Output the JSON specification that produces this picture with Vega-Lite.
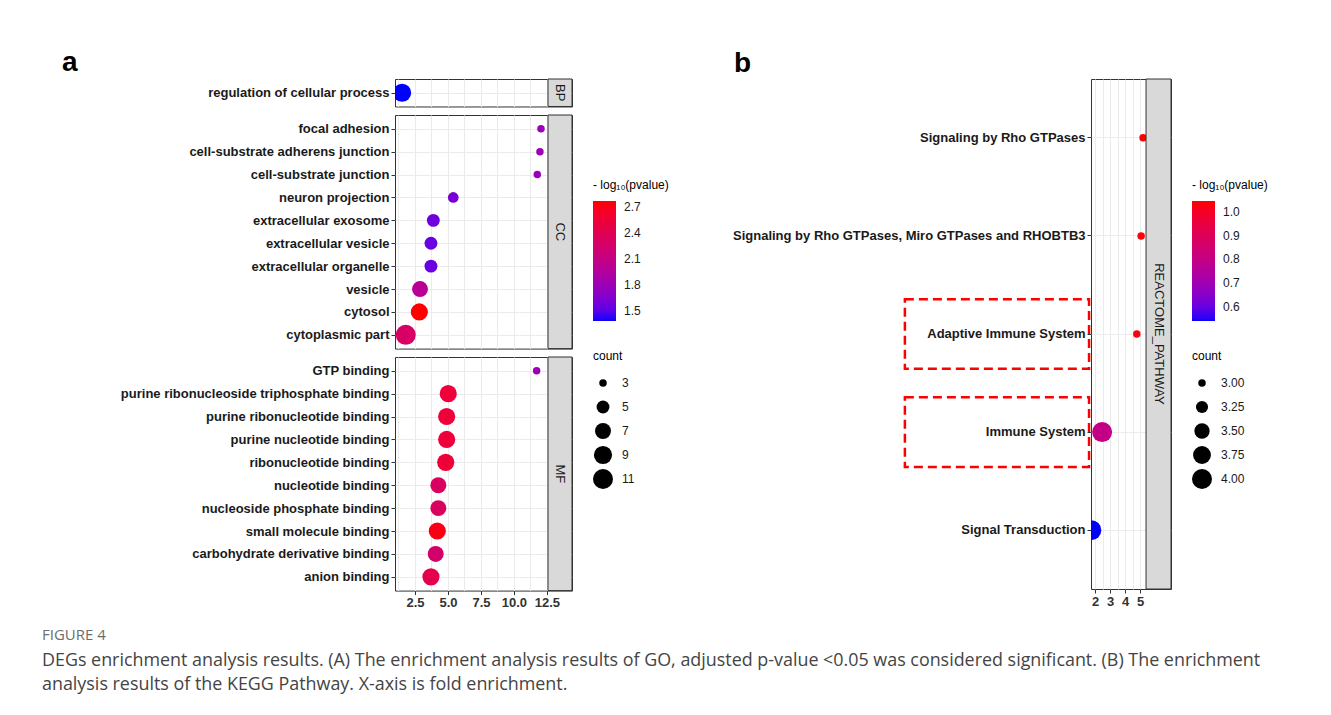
{
  "$schema": "https://vega.github.io/schema/vega-lite/v6.json",
  "background": "white",
  "padding": {"left": 42, "top": 49, "right": 5, "bottom": 5},
  "datasets": {
    "go": [
      {"ont": "BP", "term": "regulation of cellular process", "fe": 1.52, "p": 1.39, "count": 9},
      {"ont": "CC", "term": "focal adhesion", "fe": 12.05, "p": 1.8, "count": 3},
      {"ont": "CC", "term": "cell-substrate adherens junction", "fe": 11.97, "p": 1.8, "count": 3},
      {"ont": "CC", "term": "cell-substrate junction", "fe": 11.77, "p": 1.79, "count": 3},
      {"ont": "CC", "term": "neuron projection", "fe": 5.4, "p": 1.62, "count": 4},
      {"ont": "CC", "term": "extracellular exosome", "fe": 3.89, "p": 1.58, "count": 5},
      {"ont": "CC", "term": "extracellular vesicle", "fe": 3.71, "p": 1.56, "count": 5},
      {"ont": "CC", "term": "extracellular organelle", "fe": 3.71, "p": 1.56, "count": 5},
      {"ont": "CC", "term": "vesicle", "fe": 2.88, "p": 2.02, "count": 7},
      {"ont": "CC", "term": "cytosol", "fe": 2.83, "p": 2.77, "count": 8},
      {"ont": "CC", "term": "cytoplasmic part", "fe": 1.8, "p": 2.3, "count": 11},
      {"ont": "MF", "term": "GTP binding", "fe": 11.72, "p": 1.8, "count": 3},
      {"ont": "MF", "term": "purine ribonucleoside triphosphate binding", "fe": 5.02, "p": 2.55, "count": 8},
      {"ont": "MF", "term": "purine ribonucleotide binding", "fe": 4.9, "p": 2.55, "count": 8},
      {"ont": "MF", "term": "purine nucleotide binding", "fe": 4.9, "p": 2.55, "count": 8},
      {"ont": "MF", "term": "ribonucleotide binding", "fe": 4.83, "p": 2.56, "count": 8},
      {"ont": "MF", "term": "nucleotide binding", "fe": 4.27, "p": 2.33, "count": 7},
      {"ont": "MF", "term": "nucleoside phosphate binding", "fe": 4.27, "p": 2.33, "count": 7},
      {"ont": "MF", "term": "small molecule binding", "fe": 4.19, "p": 2.72, "count": 8},
      {"ont": "MF", "term": "carbohydrate derivative binding", "fe": 4.07, "p": 2.25, "count": 7},
      {"ont": "MF", "term": "anion binding", "fe": 3.71, "p": 2.45, "count": 8}
    ],
    "kegg": [
      {"db": "REACTOME_PATHWAY", "term": "Signaling by Rho GTPases", "fe": 5.2, "p": 1.046, "count": 3, "boxed": false},
      {"db": "REACTOME_PATHWAY", "term": "Signaling by Rho GTPases, Miro GTPases and RHOBTB3", "fe": 5.07, "p": 1.04, "count": 3, "boxed": false},
      {"db": "REACTOME_PATHWAY", "term": "Adaptive Immune System", "fe": 4.78, "p": 1.03, "count": 3, "boxed": true},
      {"db": "REACTOME_PATHWAY", "term": "Immune System", "fe": 2.47, "p": 0.8, "count": 4, "boxed": true},
      {"db": "REACTOME_PATHWAY", "term": "Signal Transduction", "fe": 1.75, "p": 0.54, "count": 4, "boxed": false}
    ]
  },
  "title": {
    "text": "FIGURE 4",
    "subtitle": [
      "DEGs enrichment analysis results. (A) The enrichment analysis results of GO, adjusted p-value <0.05 was considered significant. (B) The enrichment",
      "analysis results of the KEGG Pathway. X-axis is fold enrichment."
    ],
    "orient": "bottom",
    "anchor": "start",
    "frame": "group",
    "offset": 18,
    "dx": -353,
    "font": "Open Sans",
    "fontSize": 15,
    "fontWeight": "normal",
    "color": "#6d6d6d",
    "subtitleFont": "Open Sans",
    "subtitleFontSize": 17.9,
    "subtitleColor": "#444444",
    "subtitleLineHeight": 24,
    "subtitlePadding": 9
  },
  "spacing": 62,
  "resolve": {
    "scale": {"color": "independent", "size": "independent"},
    "legend": {"color": "independent", "size": "independent"}
  },
  "hconcat": [
    {
      "title": {"text": "a", "anchor": "start", "frame": "group", "dx": -333, "fontSize": 28, "fontWeight": "bold", "offset": 1, "color": "#000000"},
      "data": {"name": "go"},
      "spacing": 8,
      "bounds": "flush",
      "resolve": {"scale": {"color": "shared", "size": "shared"}},
      "vconcat": [
        {
          "width": 177,
          "height": {"step": 22.9},
          "transform": [{"filter": "datum.ont == 'BP'"}],
          "layer": [
            {
              "mark": {"type": "circle", "opacity": 1, "clip": true},
              "encoding": {
                "y": {"field": "term", "type": "nominal", "sort": null, "scale": {"padding": 0.6}, "axis": {"grid": true}},
                "x": {"field": "fe", "type": "quantitative", "scale": {"domain": [0.985, 14.4], "nice": false, "zero": false},
                      "axis": {"values": [1.25, 2.5, 3.75, 5, 6.25, 7.5, 8.75, 10, 11.25, 12.5], "labels": false, "ticks": false}},
                "color": {"field": "p", "type": "quantitative", "scale": {"range": ["blue", "red"], "interpolate": "lab"},
                          "legend": {"title": "- log₁₀(pvalue)", "orient": "none", "legendX": 198, "legendY": 101, "values": [1.5, 1.8, 2.1, 2.4, 2.7], "format": ".1f", "labelOffset": 8}},
                "size": {"field": "count", "type": "quantitative", "scale": {"type": "sqrt", "zero": false, "range": [56, 400]},
                         "legend": {"title": "count", "orient": "none", "legendX": 198, "legendY": 272, "values": [3, 5, 7, 9, 11], "symbolFillColor": "black", "symbolStrokeColor": "black", "symbolStrokeWidth": 0, "symbolOpacity": 1, "symbolType": "circle", "rowPadding": 4, "clipHeight": 20, "titlePadding": 10, "labelOffset": 9}}
              }
            },
            {
              "transform": [{"aggregate": [{"op": "count", "as": "n"}], "groupby": ["ont"]}],
              "layer": [
                {"mark": {"type": "rect", "fill": "#d9d9d9", "stroke": "#333333", "strokeWidth": 1},
                 "encoding": {"x": {"datum": 12.58, "type": "quantitative", "axis": {"values": [1.25, 2.5, 3.75, 5, 6.25, 7.5, 8.75, 10, 11.25, 12.5], "labels": false, "ticks": false}}, "x2": {"datum": 14.4}}},
                {"mark": {"type": "text", "angle": 90, "fontSize": 13, "color": "#1a1a1a", "font": "Liberation Sans"},
                 "encoding": {"x": {"datum": 13.49, "type": "quantitative", "axis": {"values": [1.25, 2.5, 3.75, 5, 6.25, 7.5, 8.75, 10, 11.25, 12.5], "labels": false, "ticks": false}}, "text": {"field": "ont"}}}
              ]
            }
          ]
        },
        {
          "width": 177,
          "height": {"step": 22.9},
          "transform": [{"filter": "datum.ont == 'CC'"}],
          "layer": [
            {
              "mark": {"type": "circle", "opacity": 1, "clip": true},
              "encoding": {
                "y": {"field": "term", "type": "nominal", "sort": null, "scale": {"padding": 0.6}, "axis": {"grid": true}},
                "x": {"field": "fe", "type": "quantitative", "scale": {"domain": [0.985, 14.4], "nice": false, "zero": false},
                      "axis": {"values": [1.25, 2.5, 3.75, 5, 6.25, 7.5, 8.75, 10, 11.25, 12.5], "labels": false, "ticks": false}},
                "color": {"field": "p", "type": "quantitative", "scale": {"range": ["blue", "red"], "interpolate": "lab"},
                          "legend": {"title": "- log₁₀(pvalue)", "orient": "none", "legendX": 198, "legendY": 101, "values": [1.5, 1.8, 2.1, 2.4, 2.7], "format": ".1f", "labelOffset": 8}},
                "size": {"field": "count", "type": "quantitative", "scale": {"type": "sqrt", "zero": false, "range": [56, 400]},
                         "legend": {"title": "count", "orient": "none", "legendX": 198, "legendY": 272, "values": [3, 5, 7, 9, 11], "symbolFillColor": "black", "symbolStrokeColor": "black", "symbolStrokeWidth": 0, "symbolOpacity": 1, "symbolType": "circle", "rowPadding": 4, "clipHeight": 20, "titlePadding": 10, "labelOffset": 9}}
              }
            },
            {
              "transform": [{"aggregate": [{"op": "count", "as": "n"}], "groupby": ["ont"]}],
              "layer": [
                {"mark": {"type": "rect", "fill": "#d9d9d9", "stroke": "#333333", "strokeWidth": 1},
                 "encoding": {"x": {"datum": 12.58, "type": "quantitative", "axis": {"values": [1.25, 2.5, 3.75, 5, 6.25, 7.5, 8.75, 10, 11.25, 12.5], "labels": false, "ticks": false}}, "x2": {"datum": 14.4}}},
                {"mark": {"type": "text", "angle": 90, "fontSize": 13, "color": "#1a1a1a", "font": "Liberation Sans"},
                 "encoding": {"x": {"datum": 13.49, "type": "quantitative", "axis": {"values": [1.25, 2.5, 3.75, 5, 6.25, 7.5, 8.75, 10, 11.25, 12.5], "labels": false, "ticks": false}}, "text": {"field": "ont"}}}
              ]
            }
          ]
        },
        {
          "width": 177,
          "height": {"step": 22.9},
          "transform": [{"filter": "datum.ont == 'MF'"}],
          "layer": [
            {
              "mark": {"type": "circle", "opacity": 1, "clip": true},
              "encoding": {
                "y": {"field": "term", "type": "nominal", "sort": null, "scale": {"padding": 0.6}, "axis": {"grid": true}},
                "x": {"field": "fe", "type": "quantitative", "scale": {"domain": [0.985, 14.4], "nice": false, "zero": false},
                      "axis": {"values": [1.25, 2.5, 3.75, 5, 6.25, 7.5, 8.75, 10, 11.25, 12.5], "labelExpr": "datum.value % 2.5 === 0 ? format(datum.value, '.1f') : ''", "tickOpacity": {"condition": {"test": "datum.value % 2.5 !== 0", "value": 0}, "value": 1}}},
                "color": {"field": "p", "type": "quantitative", "scale": {"range": ["blue", "red"], "interpolate": "lab"},
                          "legend": {"title": "- log₁₀(pvalue)", "orient": "none", "legendX": 198, "legendY": 101, "values": [1.5, 1.8, 2.1, 2.4, 2.7], "format": ".1f", "labelOffset": 8}},
                "size": {"field": "count", "type": "quantitative", "scale": {"type": "sqrt", "zero": false, "range": [56, 400]},
                         "legend": {"title": "count", "orient": "none", "legendX": 198, "legendY": 272, "values": [3, 5, 7, 9, 11], "symbolFillColor": "black", "symbolStrokeColor": "black", "symbolStrokeWidth": 0, "symbolOpacity": 1, "symbolType": "circle", "rowPadding": 4, "clipHeight": 20, "titlePadding": 10, "labelOffset": 9}}
              }
            },
            {
              "transform": [{"aggregate": [{"op": "count", "as": "n"}], "groupby": ["ont"]}],
              "layer": [
                {"mark": {"type": "rect", "fill": "#d9d9d9", "stroke": "#333333", "strokeWidth": 1},
                 "encoding": {"x": {"datum": 12.58, "type": "quantitative", "axis": {"values": [1.25, 2.5, 3.75, 5, 6.25, 7.5, 8.75, 10, 11.25, 12.5], "labelExpr": "datum.value % 2.5 === 0 ? format(datum.value, '.1f') : ''", "tickOpacity": {"condition": {"test": "datum.value % 2.5 !== 0", "value": 0}, "value": 1}}}, "x2": {"datum": 14.4}}},
                {"mark": {"type": "text", "angle": 90, "fontSize": 13, "color": "#1a1a1a", "font": "Liberation Sans"},
                 "encoding": {"x": {"datum": 13.49, "type": "quantitative", "axis": {"values": [1.25, 2.5, 3.75, 5, 6.25, 7.5, 8.75, 10, 11.25, 12.5], "labelExpr": "datum.value % 2.5 === 0 ? format(datum.value, '.1f') : ''", "tickOpacity": {"condition": {"test": "datum.value % 2.5 !== 0", "value": 0}, "value": 1}}}, "text": {"field": "ont"}}}
              ]
            }
          ]
        }
      ]
    },
    {
      "title": {"text": "b", "anchor": "start", "frame": "group", "dx": -357, "fontSize": 28, "fontWeight": "bold", "offset": 1, "color": "#000000"},
      "data": {"name": "kegg"},
      "width": 80,
      "height": 510,
      "layer": [
        {
          "mark": {"type": "circle", "opacity": 1, "clip": true},
          "encoding": {
            "y": {"field": "term", "type": "nominal", "sort": null, "scale": {"type": "band", "paddingInner": 0, "paddingOuter": 0.1}, "axis": {"grid": true, "bandPosition": 0.5}},
            "x": {"field": "fe", "type": "quantitative", "scale": {"domain": [1.73, 7.06], "nice": false, "zero": false},
                  "axis": {"values": [2, 2.5, 3, 3.5, 4, 4.5, 5], "labelExpr": "datum.value % 1 === 0 ? format(datum.value, 'd') : ''", "tickOpacity": {"condition": {"test": "datum.value % 1 !== 0", "value": 0}, "value": 1}}},
            "color": {"field": "p", "type": "quantitative", "scale": {"range": ["blue", "red"], "interpolate": "lab"},
                      "legend": {"title": "- log₁₀(pvalue)", "orient": "none", "legendX": 101, "legendY": 101, "values": [0.6, 0.7, 0.8, 0.9, 1.0], "format": ".1f", "labelOffset": 8}},
            "size": {"field": "count", "type": "quantitative", "scale": {"type": "sqrt", "zero": false, "range": [56, 400]},
                     "legend": {"title": "count", "orient": "none", "legendX": 101, "legendY": 272, "values": [3, 3.25, 3.5, 3.75, 4], "format": ".2f", "symbolFillColor": "black", "symbolStrokeColor": "black", "symbolStrokeWidth": 0, "symbolOpacity": 1, "symbolType": "circle", "rowPadding": 4, "clipHeight": 20, "titlePadding": 10, "labelOffset": 9}}
          }
        },
        {
          "transform": [{"filter": "datum.boxed"}],
          "mark": {"type": "rect", "fillOpacity": 0, "fill": "white", "stroke": "#ff0000", "strokeWidth": 2.5, "strokeDash": [9, 5], "clip": false, "height": {"band": 0.71}},
          "encoding": {
            "y": {"field": "term", "type": "nominal", "sort": null, "axis": {"grid": true, "bandPosition": 0.5}},
            "x": {"datum": -10.67, "type": "quantitative", "axis": {"values": [2, 2.5, 3, 3.5, 4, 4.5, 5], "labelExpr": "datum.value % 1 === 0 ? format(datum.value, 'd') : ''", "tickOpacity": {"condition": {"test": "datum.value % 1 !== 0", "value": 0}, "value": 1}}},
            "x2": {"datum": 1.6}
          }
        },
        {
          "transform": [{"aggregate": [{"op": "count", "as": "n"}], "groupby": ["db"]}],
          "layer": [
            {"mark": {"type": "rect", "fill": "#d9d9d9", "stroke": "#333333", "strokeWidth": 1},
             "encoding": {"x": {"datum": 5.397, "type": "quantitative", "axis": {"values": [2, 2.5, 3, 3.5, 4, 4.5, 5], "labelExpr": "datum.value % 1 === 0 ? format(datum.value, 'd') : ''", "tickOpacity": {"condition": {"test": "datum.value % 1 !== 0", "value": 0}, "value": 1}}}, "x2": {"datum": 7.06}}},
            {"mark": {"type": "text", "angle": 90, "fontSize": 13, "color": "#1a1a1a", "font": "Liberation Sans"},
             "encoding": {"x": {"datum": 6.23, "type": "quantitative", "axis": {"values": [2, 2.5, 3, 3.5, 4, 4.5, 5], "labelExpr": "datum.value % 1 === 0 ? format(datum.value, 'd') : ''", "tickOpacity": {"condition": {"test": "datum.value % 1 !== 0", "value": 0}, "value": 1}}}, "text": {"field": "db"}}}
          ]
        }
      ]
    }
  ],
  "config": {
    "font": "Liberation Sans",
    "view": {"stroke": "#333333", "strokeWidth": 1},
    "axis": {"domain": false, "title": null, "gridColor": "#ebebeb", "gridWidth": 1, "tickColor": "#333333", "tickSize": 4, "labelPadding": 2, "labelFontWeight": "bold", "labelFontSize": 13, "labelColor": "#1a1a1a", "labelLimit": 500},
    "axisX": {"labelColor": "#333333", "labelFlush": false, "labelOverlap": false},
    "legend": {"padding": 0, "titleFontSize": 12, "titleFontWeight": "normal", "titleColor": "#000000", "labelFontSize": 12, "labelColor": "#1a1a1a", "gradientLength": 120, "gradientThickness": 23, "gradientStrokeWidth": 0, "titlePadding": 9}
  }
}
